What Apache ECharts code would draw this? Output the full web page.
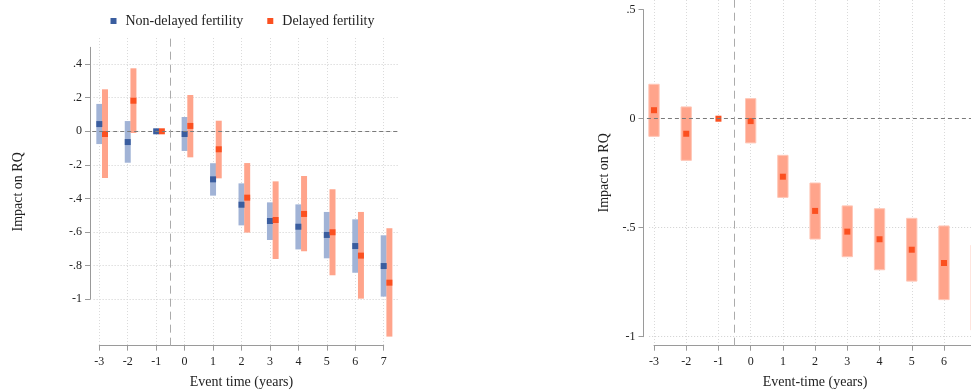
<!DOCTYPE html>
<html>
<head>
<meta charset="utf-8">
<script src="https://cdn.jsdelivr.net/npm/echarts@6/dist/echarts.min.js"></script>
<style>
  html, body { margin: 0; padding: 0; background: #fff; }
  #chart { width: 971px; height: 392px; }
</style>
</head>
<body>
<div id="chart"></div>
<script>
// Event-study estimates: effect of birth timing on RQ, by event year
const eventTime = [-3, -2, -1, 0, 1, 2, 3, 4, 5, 6, 7];

// Left panel: split by fertility timing
const nonDelayedCoef = [0.043, -0.064, 0, -0.016, -0.286, -0.437, -0.534, -0.568, -0.617, -0.683, -0.802];
const nonDelayedLo   = [-0.076, -0.187, 0, -0.117, -0.383, -0.560, -0.647, -0.703, -0.756, -0.842, -0.984];
const nonDelayedHi   = [0.163, 0.061, 0, 0.085, -0.190, -0.310, -0.423, -0.435, -0.480, -0.524, -0.619];
const delayedCoef    = [-0.016, 0.182, 0, 0.032, -0.107, -0.395, -0.528, -0.492, -0.601, -0.740, -0.901];
const delayedLo      = [-0.278, -0.010, 0, -0.155, -0.280, -0.603, -0.760, -0.714, -0.857, -0.996, -1.222];
const delayedHi      = [0.250, 0.375, 0, 0.216, 0.063, -0.189, -0.298, -0.266, -0.345, -0.480, -0.577];

// Right panel: pooled sample
const pooledCoef = [0.039, -0.069, 0, -0.011, -0.266, -0.423, -0.518, -0.553, -0.601, -0.662, -0.770];
const pooledLo   = [-0.081, -0.191, 0, -0.111, -0.361, -0.552, -0.633, -0.693, -0.745, -0.830, -0.970];
const pooledHi   = [0.158, 0.054, 0, 0.092, -0.168, -0.295, -0.400, -0.413, -0.457, -0.492, -0.580];

// Axis ticks
const xTicks = eventTime;
const leftYTicks = [-1, -0.8, -0.6, -0.4, -0.2, 0, 0.2, 0.4];
const rightYTicks = [-1, -0.5, 0, 0.5];

const seriesNames = ['Non-delayed fertility', 'Delayed fertility'];

// ---- styling ----
const FONT = "'Liberation Serif', 'Times New Roman', serif";
const TXT = '#222';
const AXIS = '#9a9a9a';
const BLUE = '#3a5d9f';
const BLUE_BAR = '#a1b3d6';
const ORANGE = '#fb5020';
const ORANGE_BAR = '#ffa48b';
const GRID_DOT = { type: [1, 2], color: '#cfcfcf', width: 1 };
const DELAY_SHIFT = 0.2;   // horizontal dodge for the second group

// pixel scale of each panel: x0 = pixel of x=-3, xs = px per year, y0 = pixel of y=0, ys = px per unit
const PL = { x0: 99.3, xs: 28.44, y0: 131.3, ys: 168 };
const PR = { x0: 654, xs: 32.22, y0: 118.7, ys: 218 };

function box(P, xmin, xmax, ymin, ymax) {
  return {
    left: P.x0 + (xmin + 3) * P.xs,
    width: (xmax - xmin) * P.xs,
    top: P.y0 - ymax * P.ys,
    height: (ymax - ymin) * P.ys,
    containLabel: false,
    outerBoundsMode: 'none'
  };
}

function stataNum(v) {
  const s = String(+(+v).toFixed(2));
  return s.replace(/^(-?)0\./, '$1.');
}

const hidden = (min, max) => ({ type: 'value', show: false, min, max });

// panel extents
const L = { xmin: -3.25, xmax: 7.55, ymin: -1.276, ymax: 0.555 };
const R = { xmin: -3.22, xmax: 7.5, ymin: -1.0413, ymax: 0.5445 };

const grids = [
  box(PL, L.xmin, L.xmax, L.ymin, L.ymax),            // 0 left plot
  box(PL, -3, 7, L.ymin, L.ymax),                     // 1 left x axis + vertical grid
  Object.assign(box(PL, -3, 7, -1, 0.5), { left: 90, width: 1 }), // 2 left y axis
  box(PL, -3.2, L.xmax, -1, 0.4),                     // 3 left horizontal grid
  box(PR, R.xmin, R.xmax, R.ymin, R.ymax),            // 4 right plot
  box(PR, -3, 7, R.ymin, R.ymax),                     // 5 right x axis + vertical grid
  Object.assign(box(PR, -3, 7, -1, 0.5), { left: 643.5, width: 1 }), // 6 right y axis
  box(PR, -3.15, R.xmax, -1, -0.5)                    // 7 right horizontal grid
];

function xAxisWithTicks(gridIndex, name) {
  return {
    type: 'value', gridIndex, min: -3, max: 7, interval: 1, position: 'bottom',
    axisLine: { show: true, lineStyle: { color: AXIS, width: 1 } },
    axisTick: { show: true, length: 5, lineStyle: { color: AXIS } },
    axisLabel: { margin: 10, fontSize: 12, fontFamily: FONT, color: TXT, formatter: stataNum },
    splitLine: { show: true, lineStyle: Object.assign({}, GRID_DOT, { color: '#dadada' }) },
    name, nameLocation: 'middle', nameGap: 30,
    nameTextStyle: { fontSize: 14, fontFamily: FONT, color: TXT }
  };
}

function yAxisWithTicks(gridIndex, ticks, interval) {
  return {
    type: 'value', gridIndex, min: -1, max: 0.5, interval,
    axisLine: { show: true, lineStyle: { color: AXIS, width: 1 } },
    axisTick: { show: true, length: 5, lineStyle: { color: AXIS }, customValues: ticks },
    axisLabel: { margin: 8, fontSize: 12, fontFamily: FONT, color: TXT, formatter: stataNum, customValues: ticks },
    splitLine: { show: false }
  };
}

function yAxisNameOnly(gridIndex, min, max, gap) {
  return {
    type: 'value', gridIndex, min, max,
    axisLine: { show: false }, axisTick: { show: false }, axisLabel: { show: false },
    splitLine: { show: false },
    name: 'Impact on RQ', nameLocation: 'middle', nameGap: gap,
    nameTextStyle: { fontSize: 14, fontFamily: FONT, color: TXT }
  };
}

function yAxisGridLines(gridIndex, min, max, interval) {
  return {
    type: 'value', gridIndex, min, max, interval,
    axisLine: { show: false }, axisTick: { show: false }, axisLabel: { show: false },
    splitLine: { show: true, lineStyle: GRID_DOT }
  };
}

const xAxes = [
  Object.assign(hidden(L.xmin, L.xmax), { gridIndex: 0 }),
  xAxisWithTicks(1, 'Event time (years)'),
  Object.assign(hidden(0, 1), { gridIndex: 2 }),
  Object.assign(hidden(0, 1), { gridIndex: 3 }),
  Object.assign(hidden(R.xmin, R.xmax), { gridIndex: 4 }),
  xAxisWithTicks(5, 'Event-time (years)'),
  Object.assign(hidden(0, 1), { gridIndex: 6 }),
  Object.assign(hidden(0, 1), { gridIndex: 7 })
];

const yAxes = [
  yAxisNameOnly(0, L.ymin, L.ymax, 67),
  Object.assign(hidden(0, 1), { gridIndex: 1 }),
  yAxisWithTicks(2, leftYTicks, 0.1),
  yAxisGridLines(3, -1, 0.4, 0.2),
  yAxisNameOnly(4, R.ymin, R.ymax, 36),
  Object.assign(hidden(0, 1), { gridIndex: 5 }),
  yAxisWithTicks(6, rightYTicks, 0.5),
  yAxisGridLines(7, -1, -0.5, 0.5)
];

// confidence-interval bar drawn through the axis scales
function ciRender(widthYears, fill, stroke) {
  return function (params, api) {
    const x = api.value(0), lo = api.value(1), hi = api.value(2);
    if (lo === hi) return null;
    const top = api.coord([x, hi]);
    const bot = api.coord([x, lo]);
    const w = api.size([widthYears, 0])[0];
    return {
      type: 'rect',
      shape: { x: top[0] - w / 2, y: top[1], width: w, height: bot[1] - top[1] },
      style: { fill, stroke: stroke || null, lineWidth: stroke ? 1 : 0 }
    };
  };
}

const zip3 = (xs, a, b, shift) => xs.map((x, i) => [x + shift, a[i], b[i]]);
const zip2 = (xs, a, shift) => xs.map((x, i) => [x + shift, a[i]]);

function refLines(vDash) {
  return {
    symbol: 'none', silent: true, animation: false,
    label: { show: false },
    data: [
      { yAxis: 0, lineStyle: { type: [4, 3], color: '#7a7a7a', width: 1 } },
      { xAxis: -0.5, lineStyle: { type: vDash, color: '#ababab', width: 1 } }
    ]
  };
}

const series = [
  // left panel
  { type: 'custom', name: 'ciNonDelayed', xAxisIndex: 0, yAxisIndex: 0, silent: true,
    renderItem: ciRender(0.21, BLUE_BAR), encode: { x: 0, y: [1, 2] },
    data: zip3(eventTime, nonDelayedLo, nonDelayedHi, 0), z: 2 },
  { type: 'custom', name: 'ciDelayed', xAxisIndex: 0, yAxisIndex: 0, silent: true,
    renderItem: ciRender(0.21, ORANGE_BAR), encode: { x: 0, y: [1, 2] },
    data: zip3(eventTime, delayedLo, delayedHi, DELAY_SHIFT), z: 2 },
  { type: 'scatter', name: seriesNames[0], xAxisIndex: 0, yAxisIndex: 0,
    symbol: 'rect', symbolSize: 6, itemStyle: { color: BLUE, opacity: 1 },
    data: zip2(eventTime, nonDelayedCoef, 0), z: 4,
    markLine: refLines([8, 5]) },
  { type: 'scatter', name: seriesNames[1], xAxisIndex: 0, yAxisIndex: 0,
    symbol: 'rect', symbolSize: 6, itemStyle: { color: ORANGE, opacity: 1 },
    data: zip2(eventTime, delayedCoef, DELAY_SHIFT), z: 4 },
  // right panel
  { type: 'custom', name: 'ciPooled', xAxisIndex: 4, yAxisIndex: 4, silent: true,
    renderItem: ciRender(0.32, ORANGE_BAR, '#ffc6b6'), encode: { x: 0, y: [1, 2] },
    data: zip3(eventTime, pooledLo, pooledHi, 0), z: 2 },
  { type: 'scatter', name: 'pooledPoint', xAxisIndex: 4, yAxisIndex: 4,
    symbol: 'rect', symbolSize: 6, itemStyle: { color: ORANGE, opacity: 1 },
    data: zip2(eventTime, pooledCoef, 0), z: 4,
    markLine: refLines([8, 5]) }
];

const chart = echarts.init(document.getElementById('chart'), null, { renderer: 'canvas' });
chart.setOption({
  animation: false,
  backgroundColor: '#ffffff',
  textStyle: { fontFamily: FONT },
  legend: {
    data: seriesNames,
    left: 105.5, top: 9,
    itemWidth: 6, itemHeight: 6, itemGap: 24,
    selectedMode: false,
    textStyle: { fontSize: 14, fontFamily: FONT, color: TXT, padding: [0, 0, 0, 4] }
  },
  grid: grids,
  xAxis: xAxes,
  yAxis: yAxes,
  series
});
</script>
</body>
</html>
